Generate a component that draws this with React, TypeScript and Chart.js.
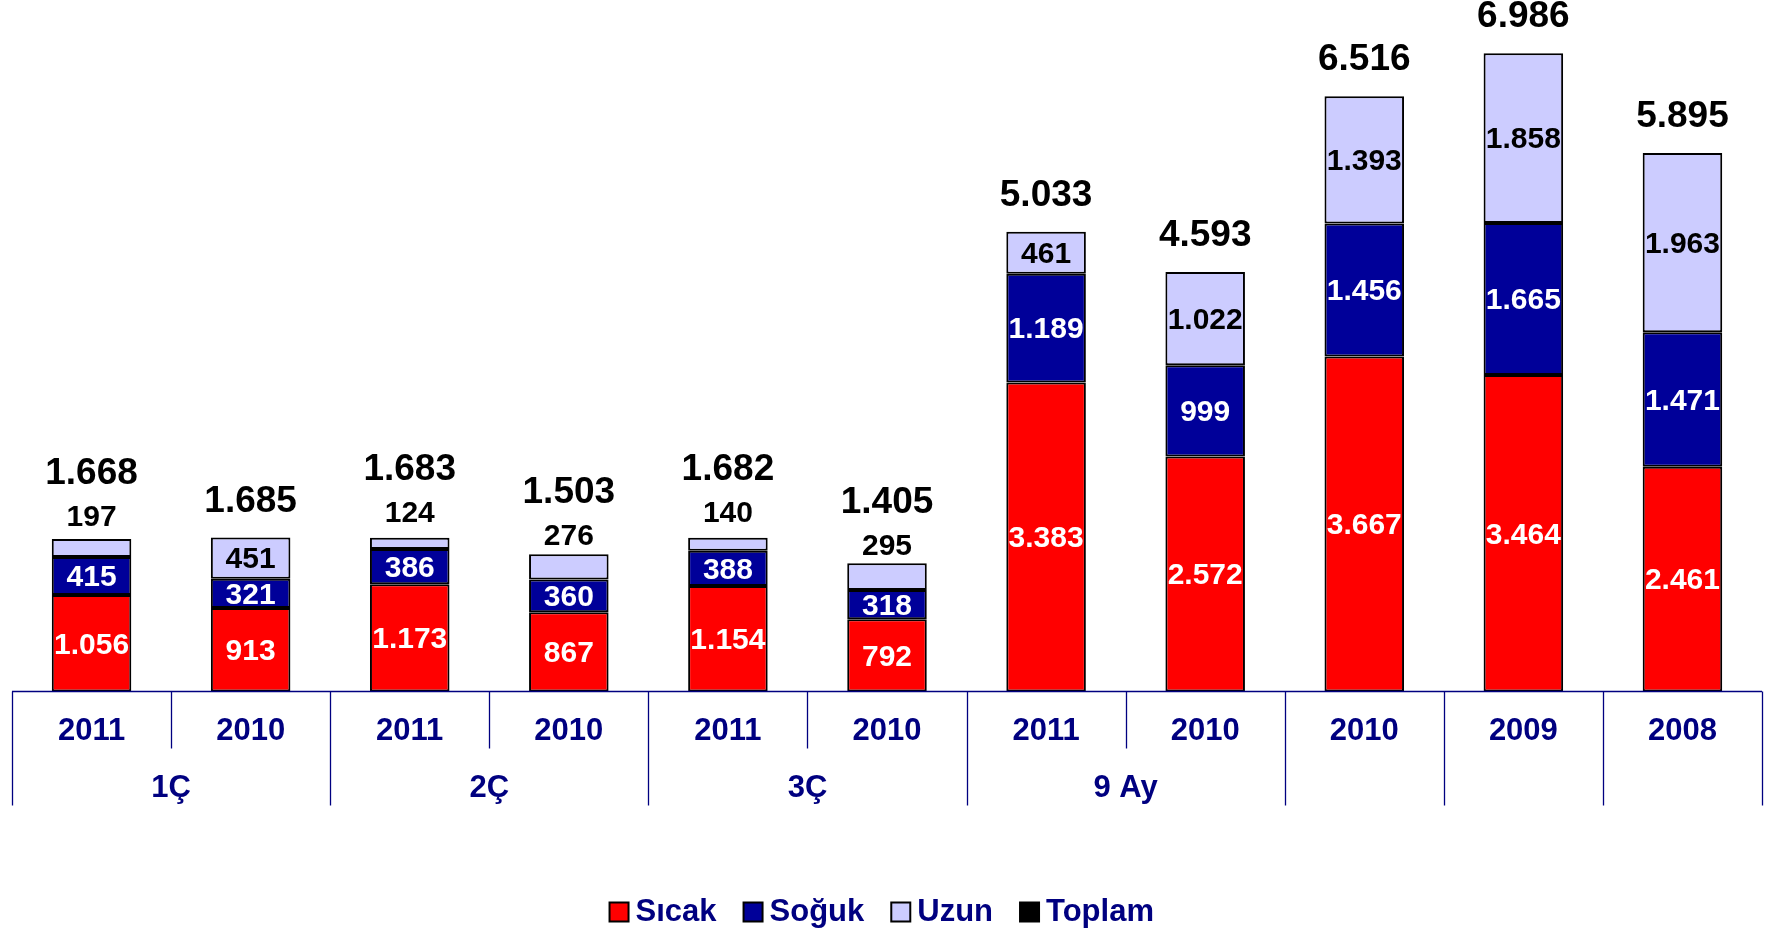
import React, { useEffect, useRef } from 'react';
import { Chart, registerables } from 'chart.js';

Chart.register(...registerables);

const years = ['2011', '2010', '2011', '2010', '2011', '2010', '2011', '2010', '2010', '2009', '2008'];
const groupLabels = ['1Ç', '2Ç', '3Ç', '9 Ay', '', '', ''];
const groupSizes = [2, 2, 2, 2, 1, 1, 1];

const sicak = [1056, 913, 1173, 867, 1154, 792, 3383, 2572, 3667, 3464, 2461];
const soguk = [415, 321, 386, 360, 388, 318, 1189, 999, 1456, 1665, 1471];
const uzun = [197, 451, 124, 276, 140, 295, 461, 1022, 1393, 1858, 1963];
const toplam = [1668, 1685, 1683, 1503, 1682, 1405, 5033, 4593, 6516, 6986, 5895];

const FONT = '"Liberation Sans", Arial, sans-serif';
const NAVY = '#000080';

const fmt = (n: number) =>
  n >= 1000 ? `${Math.floor(n / 1000)}.${String(n % 1000).padStart(3, '0')}` : String(n);

const labelPlugin = {
  id: 'customLabels',
  afterDatasetsDraw(chart: any) {
    const ctx = chart.ctx;
    ctx.save();
    ctx.textAlign = 'center';
    ctx.textBaseline = 'middle';
    const n = years.length;
    for (let i = 0; i < n; i++) {
      let smallY: number | null = null;
      for (let d = 0; d < 3; d++) {
        const el = chart.getDatasetMeta(d).data[i];
        const v = chart.data.datasets[d].data[i] as number;
        ctx.font = `bold 30px ${FONT}`;
        const mid = (el.y + el.base) / 2;
        if (d === 2 && v < 300) {
          smallY = mid - 30;
          ctx.fillStyle = '#000';
          ctx.fillText(fmt(v), el.x, smallY);
        } else {
          ctx.fillStyle = d === 2 ? '#000' : '#fff';
          ctx.fillText(fmt(v), el.x, mid + 2);
        }
      }
      const top = chart.getDatasetMeta(2).data[i];
      ctx.font = `bold 37px ${FONT}`;
      ctx.fillStyle = '#000';
      const ty = smallY !== null ? smallY - 44 : top.y - 36;
      ctx.fillText(fmt(toplam[i]), top.x, ty);
    }
    ctx.restore();
  },
  afterDraw(chart: any) {
    const ctx = chart.ctx;
    const area = chart.chartArea;
    const y0 = chart.scales.y.getPixelForValue(0);
    const n = years.length;
    const w = (area.right - area.left) / n;
    ctx.save();
    ctx.strokeStyle = NAVY;
    ctx.lineWidth = 1.3;
    ctx.beginPath();
    ctx.moveTo(area.left, y0);
    ctx.lineTo(area.right, y0);
    ctx.stroke();
    // separators
    const longIdx = new Set<number>();
    let acc = 0;
    longIdx.add(0);
    groupSizes.forEach((s) => {
      acc += s;
      longIdx.add(acc);
    });
    for (let k = 0; k <= n; k++) {
      const x = Math.round(area.left + k * w) + 0.5;
      ctx.beginPath();
      ctx.moveTo(x, y0);
      ctx.lineTo(x, y0 + (longIdx.has(k) ? 114 : 57));
      ctx.stroke();
    }
    ctx.fillStyle = NAVY;
    ctx.textAlign = 'center';
    ctx.textBaseline = 'middle';
    ctx.font = `bold 31px ${FONT}`;
    for (let i = 0; i < n; i++) {
      ctx.fillText(years[i], area.left + (i + 0.5) * w, y0 + 40);
    }
    acc = 0;
    groupLabels.forEach((g, gi) => {
      const cx = area.left + (acc + groupSizes[gi] / 2) * w;
      if (g) ctx.fillText(g, cx, y0 + 97);
      acc += groupSizes[gi];
    });

    // legend
    ctx.font = `bold 31px ${FONT}`;
    const box = 19;
    const gapText = 7;
    const gapItem = 27;
    const ds = chart.data.datasets;
    let total = 0;
    const widths = ds.map((d: any) => ctx.measureText(d.label).width);
    widths.forEach((tw: number, k: number) => {
      total += box + gapText + tw + (k < widths.length - 1 ? gapItem : 0);
    });
    const cxLegend = area.left + (area.right - area.left) * 0.497;
    let x = cxLegend - total / 2;
    const ly = 912;
    ctx.textAlign = 'left';
    ds.forEach((d: any, k: number) => {
      ctx.fillStyle = d.legendColor;
      ctx.fillRect(x, ly - box / 2, box, box);
      ctx.strokeStyle = '#000';
      ctx.lineWidth = 2;
      ctx.strokeRect(x, ly - box / 2, box, box);
      ctx.fillStyle = NAVY;
      ctx.fillText(d.label, x + box + gapText, ly);
      x += box + gapText + widths[k] + gapItem;
    });
    ctx.restore();
  },
};

export default function App() {
  const ref = useRef<HTMLCanvasElement>(null);
  useEffect(() => {
    if (!ref.current) return;
    const barCommon = {
      borderColor: '#000',
      borderWidth: 2,
      borderSkipped: false,
      barPercentage: 0.5,
      categoryPercentage: 1,
    };
    const chart = new Chart(ref.current, {
      type: 'bar',
      data: {
        labels: years,
        datasets: [
          { label: 'Sıcak', data: sicak, backgroundColor: '#FF0000', legendColor: '#FF0000', ...barCommon } as any,
          { label: 'Soğuk', data: soguk, backgroundColor: '#000099', legendColor: '#000099', ...barCommon } as any,
          { label: 'Uzun', data: uzun, backgroundColor: '#CCCCFF', legendColor: '#CCCCFF', ...barCommon } as any,
          {
            type: 'line',
            label: 'Toplam',
            data: toplam,
            showLine: false,
            pointRadius: 0,
            backgroundColor: '#000',
            borderColor: '#000',
            legendColor: '#000',
            stack: 'total',
          } as any,
        ],
      },
      options: {
        animation: false,
        responsive: true,
        maintainAspectRatio: false,
        layout: { padding: { left: 12, right: 5, top: 52, bottom: 239.5 } },
        plugins: { legend: { display: false }, tooltip: { enabled: false } },
        scales: {
          x: { display: false, stacked: true },
          y: { display: false, stacked: true, min: 0, max: 7000 },
        },
      },
      plugins: [labelPlugin],
    });
    return () => chart.destroy();
  }, []);
  return (
    <div style={{ position: 'absolute', left: 0, top: 0, width: 1767, height: 931, background: '#fff' }}>
      <canvas ref={ref} />
    </div>
  );
}
